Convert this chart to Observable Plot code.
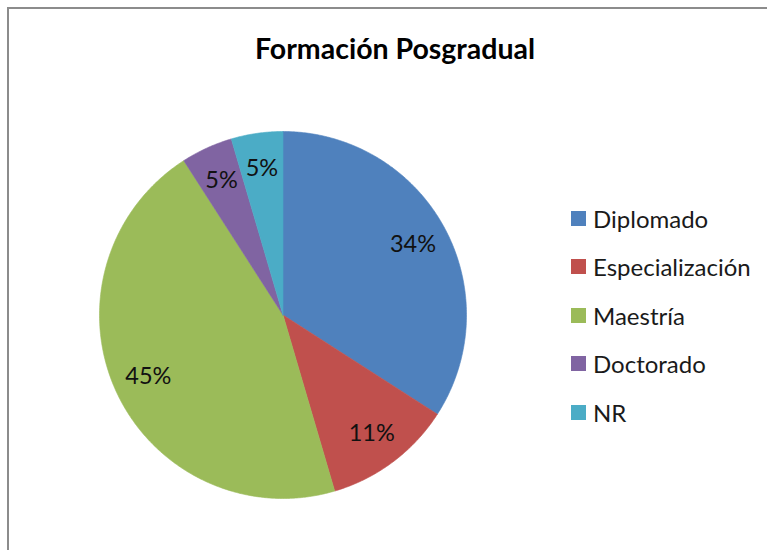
<!DOCTYPE html>
<html>
<head>
<meta charset="utf-8">
<script src="https://cdn.jsdelivr.net/npm/d3@7"></script>
<script src="https://cdn.jsdelivr.net/npm/@observablehq/plot@0.6"></script>
<style>
  html, body { margin: 0; padding: 0; background: #fff; }
  #frame { position: relative; width: 767px; height: 550px; overflow: hidden; font-family: Lato, "Open Sans", sans-serif; }
  #border { position: absolute; left: 7px; top: 7px; width: 800px; height: 600px; border-left: 2px solid #8c8c8c; border-top: 2px solid #8c8c8c; }
  #title { position: absolute; left: 0; width: 790px; top: 31px; text-align: center; font-weight: bold; font-size: 28.5px; color: #000; }
  #chart { position: absolute; left: 97px; top: 129px; }
  #legend { position: absolute; left: 571px; top: 0; }
  .row { position: absolute; left: 0; display: flex; align-items: center; white-space: nowrap; font-size: 24px; color: #1a1a1a; }
  .sw { width: 15px; height: 15px; margin-right: 7px; }
</style>
</head>
<body>
<div id="frame">
  <div id="border"></div>
  <div id="title">Formación Posgradual</div>
  <div id="chart"></div>
  <div id="legend"></div>
</div>
<script>
const categories = ["Diplomado", "Especialización", "Maestría", "Doctorado", "NR"];
const values = [15, 5, 20, 2, 2];
const labels = ["34%", "11%", "45%", "5%", "5%"];
const colors = ["#4F81BD", "#C0504D", "#9BBB59", "#8064A2", "#4BACC6"];

const total = d3.sum(values);
let acc = 0;
const slices = categories.map((c, i) => {
  const a0 = acc / total * 2 * Math.PI;
  acc += values[i];
  const a1 = acc / total * 2 * Math.PI;
  return {category: c, a0, a1, label: labels[i]};
});

// polygon points for each slice (center + arc), angle measured clockwise from top
const pts = [];
for (const s of slices) {
  pts.push({category: s.category, x: 0, y: 0});
  const n = Math.max(2, Math.ceil((s.a1 - s.a0) / (Math.PI / 360)));
  for (let k = 0; k <= n; k++) {
    const a = s.a0 + (s.a1 - s.a0) * k / n;
    pts.push({category: s.category, x: Math.sin(a), y: Math.cos(a)});
  }
  pts.push({category: s.category, x: 0, y: 0});
}
const labelPts = slices.map(s => {
  const m = (s.a0 + s.a1) / 2;
  return {label: s.label, x: 0.807 * Math.sin(m), y: 0.807 * Math.cos(m)};
});

const plot = Plot.plot({
  width: 371,
  height: 371,
  margin: 2,
  x: {domain: [-1, 1], axis: null},
  y: {domain: [-1, 1], axis: null},
  color: {domain: categories, range: colors},
  style: {background: "transparent", overflow: "visible"},
  marks: [
    Plot.line(pts, {x: "x", y: "y", z: "category", fill: "category", stroke: "category", strokeWidth: 0.6, curve: "linear"}),
    Plot.text(labelPts, {x: "x", y: "y", text: "label", fontSize: 23.5, fill: "#111", fontFamily: "Lato, 'Open Sans', sans-serif"})
  ]
});
document.getElementById("chart").appendChild(plot);

const legend = document.getElementById("legend");
categories.forEach((c, i) => {
  const row = document.createElement("div");
  row.className = "row";
  row.style.top = (218 + i * 48.5 - 14) + "px";
  row.style.height = "28px";
  const sw = document.createElement("div");
  sw.className = "sw";
  sw.style.background = colors[i];
  const t = document.createElement("span");
  t.textContent = c;
  row.appendChild(sw);
  row.appendChild(t);
  legend.appendChild(row);
});
</script>
</body>
</html>
